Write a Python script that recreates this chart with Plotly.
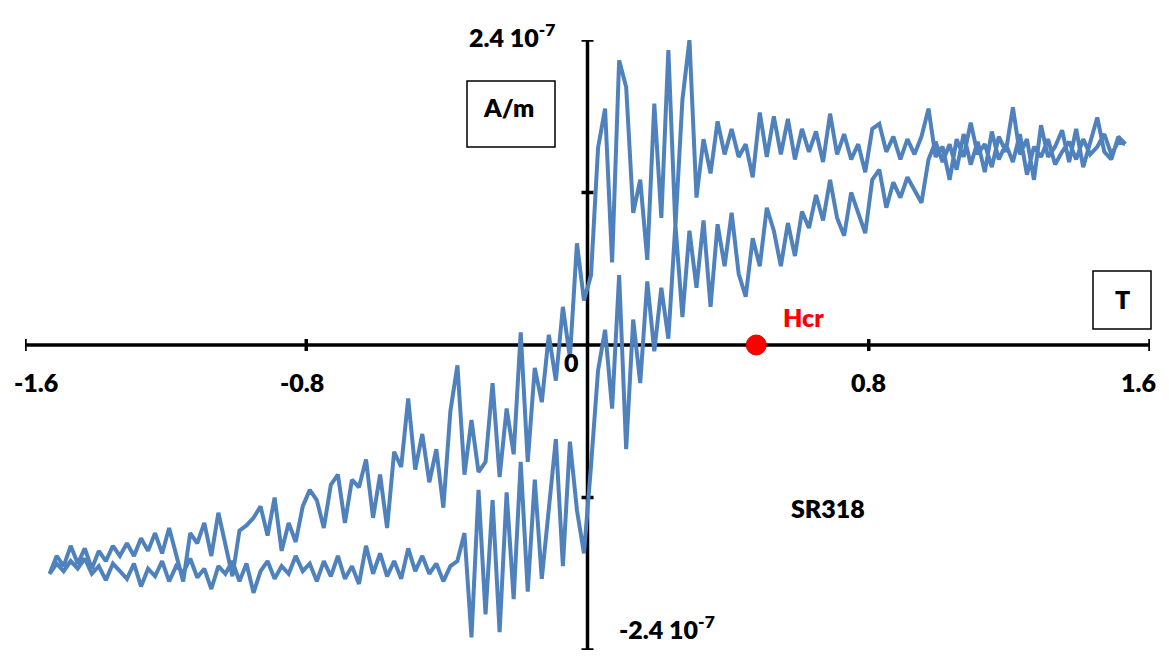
import plotly.graph_objects as go

# Applied field (T), one measurement grid shared by both branches
FIELD_T = [
    -1.53, -1.51, -1.49, -1.47, -1.45, -1.43, -1.41, -1.39, -1.37, -1.35,
    -1.33, -1.31, -1.29, -1.27, -1.25, -1.23, -1.21, -1.19, -1.17, -1.15,
    -1.13, -1.11, -1.09, -1.07, -1.05, -1.03, -1.01, -0.99, -0.97, -0.95,
    -0.93, -0.91, -0.89, -0.87, -0.85, -0.83, -0.81, -0.79, -0.77, -0.75,
    -0.73, -0.71, -0.69, -0.67, -0.65, -0.63, -0.61, -0.59, -0.57, -0.55,
    -0.53, -0.51, -0.49, -0.47, -0.45, -0.43, -0.41, -0.39, -0.37, -0.35,
    -0.33, -0.31, -0.29, -0.27, -0.25, -0.23, -0.21, -0.19, -0.17, -0.15,
    -0.13, -0.11, -0.09, -0.07, -0.05, -0.03, -0.01, 0.01, 0.03, 0.05,
    0.07, 0.09, 0.11, 0.13, 0.15, 0.17, 0.19, 0.21, 0.23, 0.25,
    0.27, 0.29, 0.31, 0.33, 0.35, 0.37, 0.39, 0.41, 0.43, 0.45,
    0.47, 0.49, 0.51, 0.53, 0.55, 0.57, 0.59, 0.61, 0.63, 0.65,
    0.67, 0.69, 0.71, 0.73, 0.75, 0.77, 0.79, 0.81, 0.83, 0.85,
    0.87, 0.89, 0.91, 0.93, 0.95, 0.97, 0.99, 1.01, 1.03, 1.05,
    1.07, 1.09, 1.11, 1.13, 1.15, 1.17, 1.19, 1.21, 1.23, 1.25,
    1.27, 1.29, 1.31, 1.33, 1.35, 1.37, 1.39, 1.41, 1.43, 1.45,
    1.47, 1.49, 1.51, 1.53,
]

# Magnetisation (units of 1e-7 A/m), descending-field branch, listed at FIELD_T order
M_DESC = [
    -1.80, -1.66, -1.74, -1.58, -1.72, -1.60, -1.76, -1.62, -1.70, -1.58,
    -1.66, -1.56, -1.66, -1.52, -1.62, -1.48, -1.64, -1.44, -1.66, -1.86,
    -1.48, -1.56, -1.40, -1.66, -1.32, -1.58, -1.82, -1.46, -1.42, -1.36,
    -1.27, -1.50, -1.20, -1.62, -1.40, -1.55, -1.27, -1.14, -1.22, -1.44,
    -1.10, -1.02, -1.40, -1.06, -1.12, -0.90, -1.36, -1.02, -1.44, -0.84,
    -0.96, -0.42, -0.98, -0.70, -1.08, -0.82, -1.28, -0.52, -0.16, -1.02,
    -0.59, -1.00, -0.92, -0.30, -1.04, -0.50, -0.86, 0.10, -0.92, -0.18,
    -0.45, 0.08, -0.28, 0.30, -0.10, 0.80, 0.35, 0.55, 1.55, 1.86,
    0.65, 2.24, 2.03, 1.04, 1.30, 0.67, 1.90, 1.00, 2.32, 0.93,
    1.93, 2.40, 1.16, 1.62, 1.35, 1.76, 1.50, 1.70, 1.48, 1.58,
    1.32, 1.83, 1.48, 1.80, 1.50, 1.78, 1.46, 1.70, 1.52, 1.68,
    1.44, 1.82, 1.50, 1.66, 1.46, 1.58, 1.36, 1.70, 1.74, 1.52,
    1.64, 1.46, 1.62, 1.50, 1.64, 1.86, 1.48, 1.56, 1.30, 1.62,
    1.48, 1.75, 1.50, 1.58, 1.40, 1.64, 1.52, 1.87, 1.50, 1.62,
    1.30, 1.73, 1.48, 1.56, 1.69, 1.44, 1.70, 1.40, 1.58, 1.79,
    1.52, 1.46, 1.64, 1.58,
]

# Magnetisation (units of 1e-7 A/m), ascending-field branch, listed at FIELD_T order
M_ASC = [
    -1.80, -1.72, -1.78, -1.70, -1.76, -1.68, -1.80, -1.74, -1.85, -1.72,
    -1.78, -1.84, -1.72, -1.90, -1.76, -1.82, -1.70, -1.86, -1.74, -1.79,
    -1.68, -1.83, -1.76, -1.92, -1.74, -1.80, -1.70, -1.86, -1.72, -1.95,
    -1.78, -1.70, -1.84, -1.74, -1.80, -1.66, -1.78, -1.72, -1.86, -1.70,
    -1.82, -1.66, -1.84, -1.74, -1.88, -1.58, -1.80, -1.64, -1.82, -1.70,
    -1.84, -1.60, -1.78, -1.66, -1.80, -1.72, -1.86, -1.74, -1.70, -1.48,
    -2.30, -1.14, -2.12, -1.22, -2.26, -1.16, -2.00, -0.92, -1.94, -1.06,
    -1.84, -1.30, -0.74, -1.74, -0.76, -1.30, -1.64, -0.95, -0.20, 0.12,
    -0.50, 0.55, -0.82, 0.20, -0.30, 0.50, -0.05, 0.45, 0.05, 0.95,
    0.22, 0.90, 0.45, 0.98, 0.30, 0.95, 0.62, 1.04, 0.56, 0.38,
    0.84, 0.62, 1.08, 0.90, 0.62, 0.96, 0.70, 1.05, 0.92, 1.18,
    0.98, 1.30, 1.00, 0.86, 1.20, 1.04, 0.88, 1.30, 1.38, 1.08,
    1.28, 1.16, 1.32, 1.22, 1.12, 1.46, 1.60, 1.44, 1.58, 1.38,
    1.66, 1.42, 1.60, 1.36, 1.68, 1.46, 1.58, 1.44, 1.66, 1.34,
    1.56, 1.48, 1.62, 1.42, 1.52, 1.60, 1.46, 1.62, 1.50, 1.56,
    1.66, 1.50, 1.60, 1.58,
]

HCR_T = 0.48
X_TICKS = [-1.6, -0.8, 0.8, 1.6]
X_TICK_LABELS = ["-1.6", "-0.8", "0.8", "1.6"]
Y_TICKS = [-2.4, -1.2, 1.2, 2.4]
X_RANGE = [-1.6, 1.6]
Y_RANGE = [-2.4, 2.4]

if not (len(FIELD_T) == len(M_DESC) == len(M_ASC)):
    raise ValueError(f"length mismatch {len(FIELD_T)} {len(M_DESC)} {len(M_ASC)}")

W, H = 1169, 663
ML, MR, MT, MB = 25, 19, 40, 13
PW, PH = W - ML - MR, H - MT - MB


def pxx(p):
    return (p - ML) / PW


def pxy(p):
    return (H - MB - p) / PH


BLUE = "#4F81BD"
FONT = "Lato"

# loop: descending branch (right -> left), then ascending branch (left -> right)
loop_x = FIELD_T[::-1] + FIELD_T
loop_y = M_DESC[::-1] + M_ASC

fig = go.Figure()
fig.add_trace(go.Scatter(x=loop_x, y=loop_y, mode="lines",
                         line=dict(color=BLUE, width=4), showlegend=False,
                         hoverinfo="skip"))
fig.add_trace(go.Scatter(x=[HCR_T], y=[0], mode="markers",
                         marker=dict(color="#FF0000", size=20,
                                     line=dict(color="#E00000", width=1)),
                         showlegend=False, hoverinfo="skip"))

shapes = []
AX = dict(color="black", width=3.5)
shapes.append(dict(type="line", xref="x", yref="y", x0=X_RANGE[0], x1=X_RANGE[1],
                   y0=0, y1=0, line=AX, layer="below"))
shapes.append(dict(type="line", xref="x", yref="y", x0=0, x1=0,
                   y0=Y_RANGE[0], y1=Y_RANGE[1], line=AX, layer="below"))
for t in X_TICKS:
    shapes.append(dict(type="line", xref="x", yref="y", x0=t, x1=t,
                       ysizemode="pixel", yanchor=0, y0=-6, y1=6, line=AX, layer="below"))
for t in Y_TICKS:
    shapes.append(dict(type="line", xref="x", yref="y", y0=t, y1=t,
                       xsizemode="pixel", xanchor=0, x0=-6, x1=6, line=AX, layer="below"))
# boxes
BOX = dict(color="black", width=1.5)
shapes.append(dict(type="rect", xref="paper", yref="paper",
                   x0=pxx(467), x1=pxx(555), y0=pxy(147), y1=pxy(81), line=BOX))
shapes.append(dict(type="rect", xref="paper", yref="paper",
                   x0=pxx(1093), x1=pxx(1151), y0=pxy(329), y1=pxy(271), line=BOX))

ann = []
TF = dict(family=FONT, size=25, color="black", weight=800)
shifts = {"-1.6": 11, "-0.8": -4, "0.8": 0, "1.6": -12}
for t, lab in zip(X_TICKS, X_TICK_LABELS):
    ann.append(dict(x=t, y=0, xref="x", yref="y", text=lab,
                    showarrow=False, font=TF, xanchor="center", yanchor="middle",
                    xshift=shifts[lab], yshift=-37))
ann.append(dict(x=pxx(571), y=pxy(362), xref="paper", yref="paper", text="0",
                showarrow=False, font=TF, xanchor="center", yanchor="middle"))
ann.append(dict(x=pxx(557), y=pxy(35), xref="paper", yref="paper",
                text="2.4 10<sup>-7</sup>", showarrow=False, font=TF,
                xanchor="right", yanchor="middle"))
ann.append(dict(x=pxx(617), y=pxy(627), xref="paper", yref="paper",
                text="-2.4 10<sup>-7</sup>", showarrow=False, font=TF,
                xanchor="left", yanchor="middle"))
ann.append(dict(x=pxx(508), y=pxy(107), xref="paper", yref="paper", text="A/m",
                showarrow=False, font=TF, xanchor="center", yanchor="middle"))
ann.append(dict(x=pxx(1122), y=pxy(299), xref="paper", yref="paper", text="T",
                showarrow=False, font=TF, xanchor="center", yanchor="middle"))
ann.append(dict(x=pxx(803), y=pxy(317), xref="paper", yref="paper", text="Hcr",
                showarrow=False,
                font=dict(family=FONT, size=25, color="#FF0000", weight=800),
                xanchor="center", yanchor="middle"))
ann.append(dict(x=pxx(828), y=pxy(508), xref="paper", yref="paper", text="SR318",
                showarrow=False, font=TF, xanchor="center", yanchor="middle"))

fig.update_layout(
    width=W, height=H,
    margin=dict(l=ML, r=MR, t=MT, b=MB, pad=0),
    paper_bgcolor="white", plot_bgcolor="white",
    xaxis=dict(range=X_RANGE, showgrid=False, zeroline=False, showline=False,
               showticklabels=False, ticks="", fixedrange=True),
    yaxis=dict(range=Y_RANGE, showgrid=False, zeroline=False, showline=False,
               showticklabels=False, ticks="", fixedrange=True),
    shapes=shapes, annotations=ann, showlegend=False,
)
fig.write_html("out.html", config={"displayModeBar": False})
